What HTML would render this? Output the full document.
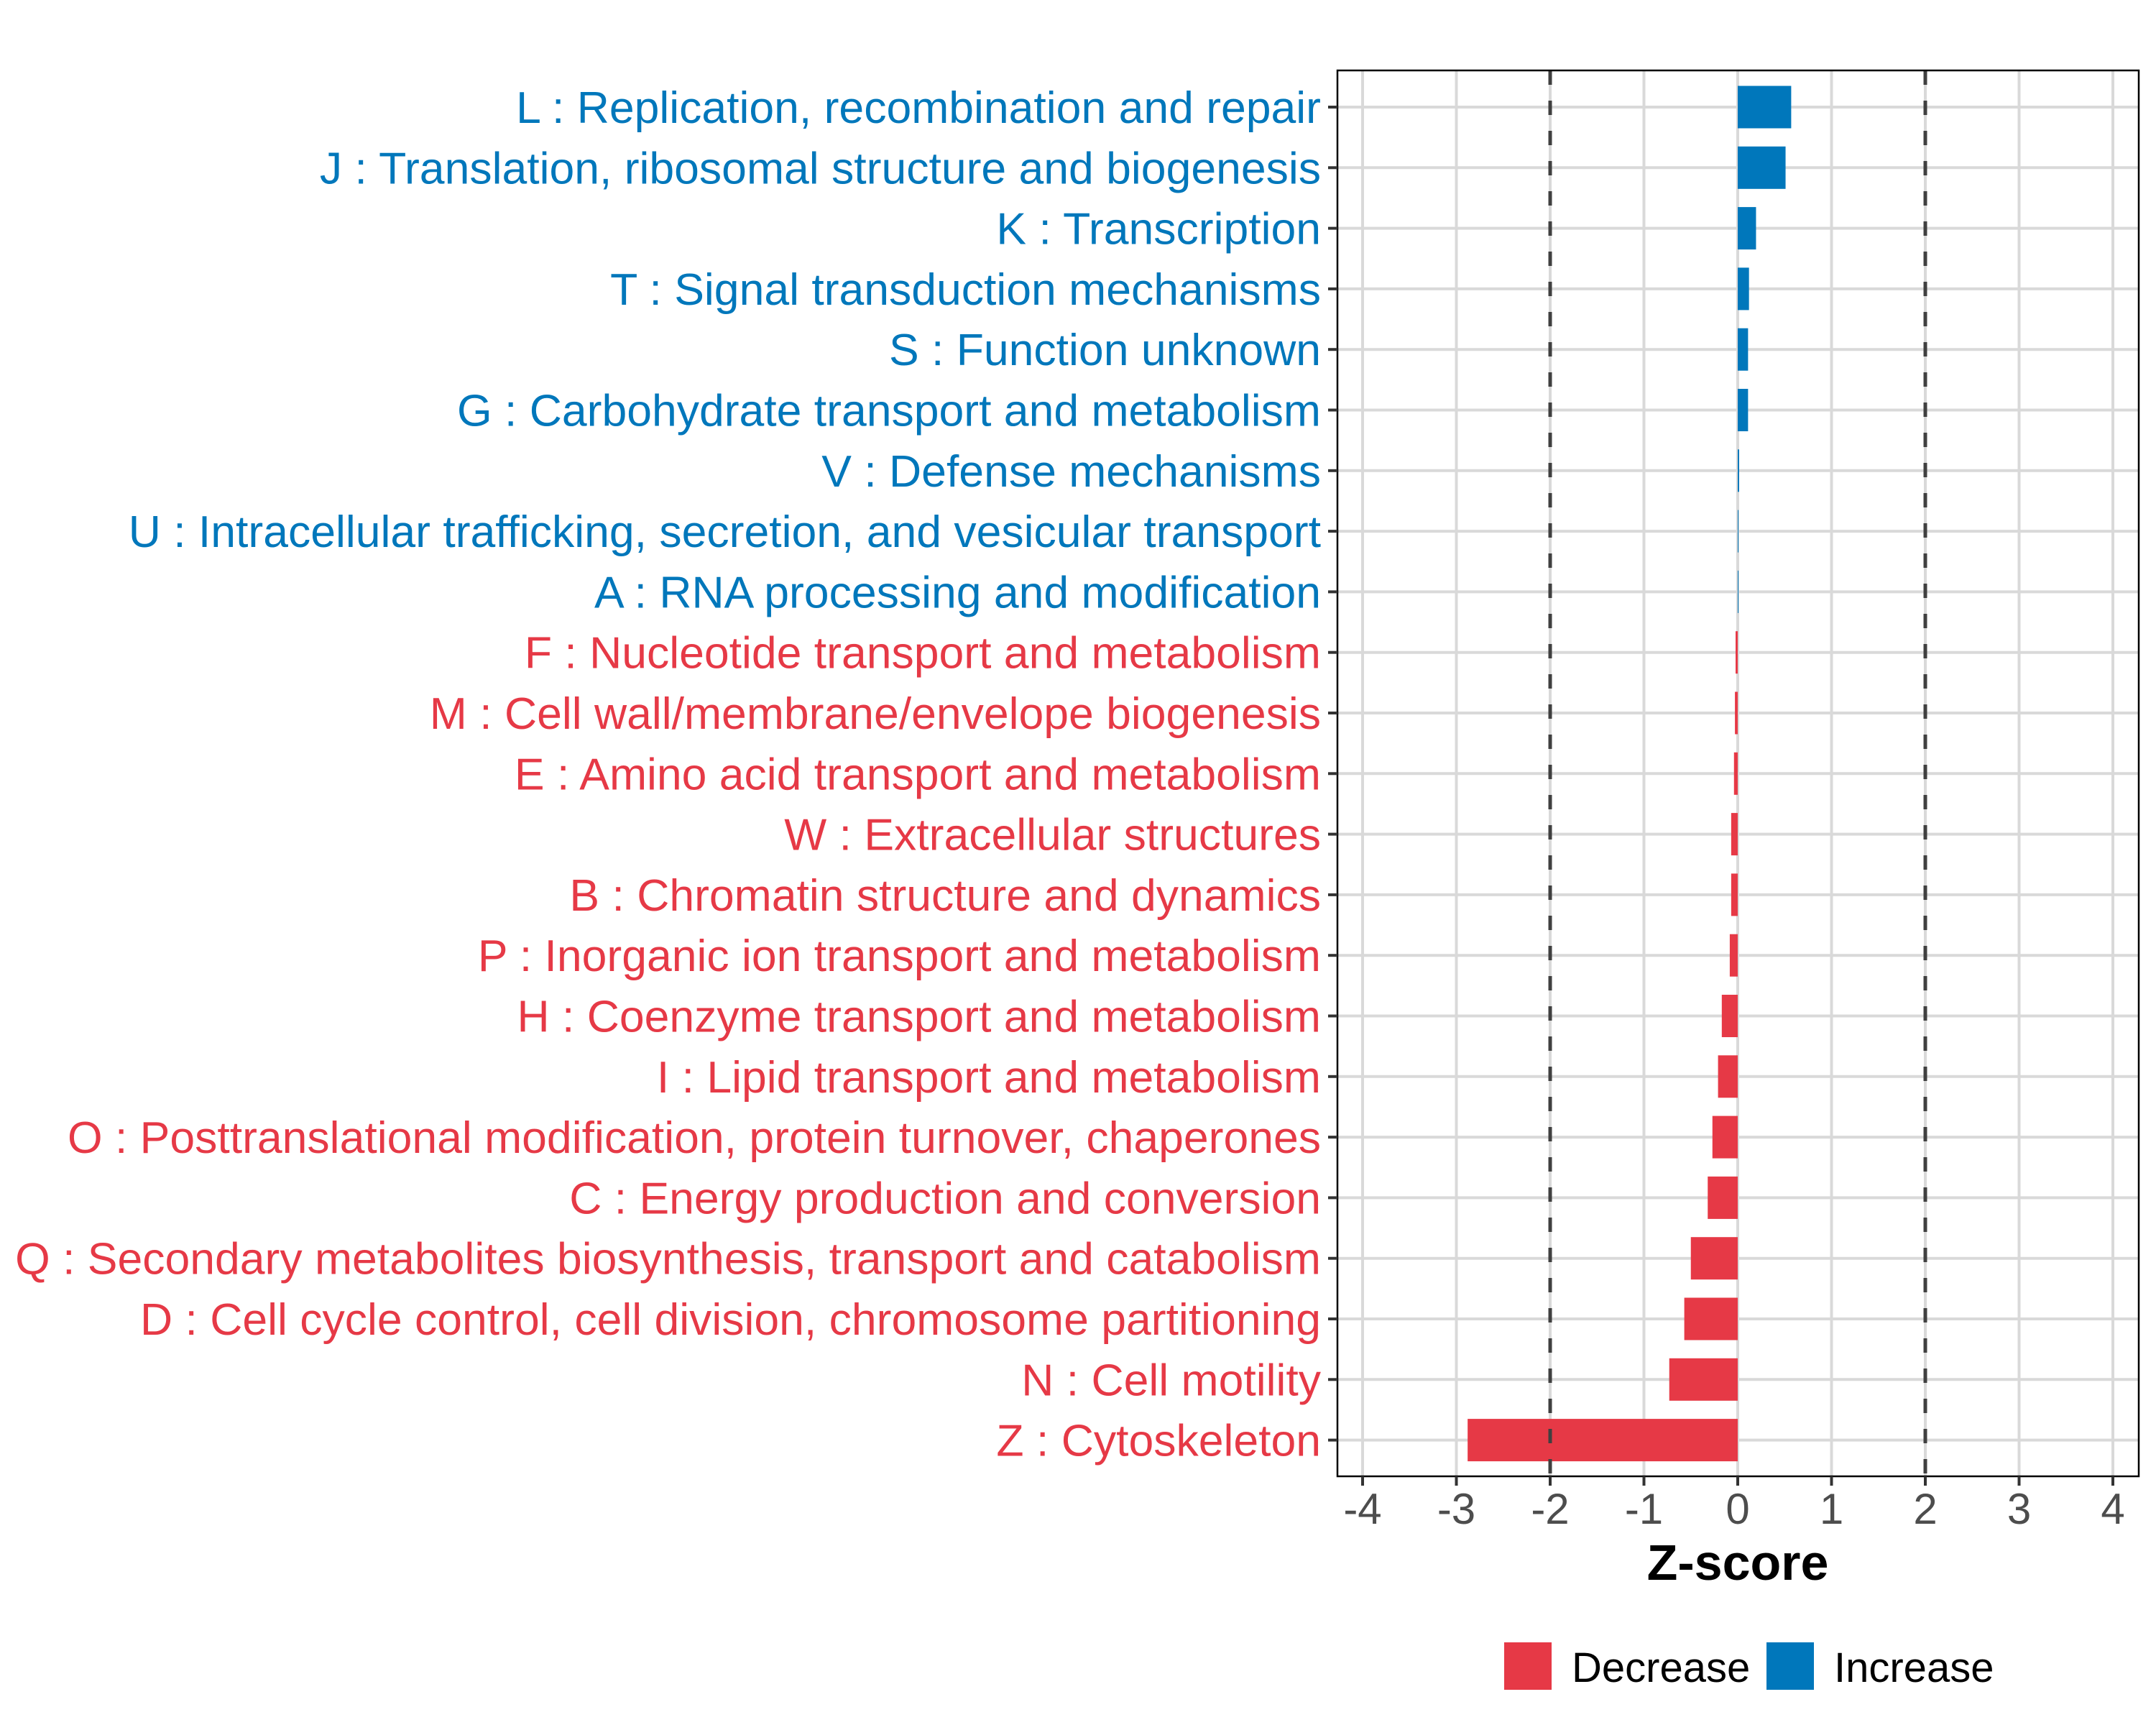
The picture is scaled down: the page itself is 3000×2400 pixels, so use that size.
<!DOCTYPE html>
<html><head><meta charset="utf-8"><style>
html,body{margin:0;padding:0;background:#fff;}
svg{display:block;font-family:"Liberation Sans",sans-serif;}
</style></head><body>
<svg id="chart" width="3000" height="2400" viewBox="0 0 3000 2400" xmlns="http://www.w3.org/2000/svg">
<rect width="3000" height="2400" fill="#fff"/>
<g id="grid"></g>
<g id="bars"></g>
<g id="axes"></g>
<text x="2418" y="2198" font-size="70" font-weight="bold" text-anchor="middle" fill="#000">Z-score</text>
<g>
<rect x="2093" y="2285" width="66" height="66" fill="#E63946"/>
<text x="2187" y="2340" font-size="58" fill="#000">Decrease</text>
<rect x="2458" y="2285" width="66" height="66" fill="#0077BB"/>
<text x="2552" y="2340" font-size="58" fill="#000">Increase</text>
</g>
</svg>
<script>
const categories = ["L : Replication, recombination and repair","J : Translation, ribosomal structure and biogenesis","K : Transcription","T : Signal transduction mechanisms","S : Function unknown","G : Carbohydrate transport and metabolism","V : Defense mechanisms","U : Intracellular trafficking, secretion, and vesicular transport","A : RNA processing and modification","F : Nucleotide transport and metabolism","M : Cell wall/membrane/envelope biogenesis","E : Amino acid transport and metabolism","W : Extracellular structures","B : Chromatin structure and dynamics","P : Inorganic ion transport and metabolism","H : Coenzyme transport and metabolism","I : Lipid transport and metabolism","O : Posttranslational modification, protein turnover, chaperones","C : Energy production and conversion","Q : Secondary metabolites biosynthesis, transport and catabolism","D : Cell cycle control, cell division, chromosome partitioning","N : Cell motility","Z : Cytoskeleton"];
const zscores = [0.57,0.51,0.195,0.12,0.11,0.11,0.015,0.006,0.006,-0.023,-0.03,-0.04,-0.07,-0.07,-0.085,-0.17,-0.21,-0.27,-0.32,-0.50,-0.57,-0.73,-2.88];
const xTicks = [-4,-3,-2,-1,0,1,2,3,4];
const refLines = [-2,2];

const NS="http://www.w3.org/2000/svg";
const PL=1861, PR=2976, PT=98, PB=2054;
const X0=2418, UNIT=130.5, ROW0=149, ROWH=84.3;
const xs=v=>X0+v*UNIT;
const ys=i=>ROW0+i*ROWH;
function mk(tag,attrs,parent){const e=document.createElementNS(NS,tag);for(const k in attrs)e.setAttribute(k,attrs[k]);parent.appendChild(e);return e;}
const grid=document.getElementById('grid'), bars=document.getElementById('bars'), axes=document.getElementById('axes');
mk('rect',{x:PL,y:PT,width:PR-PL,height:PB-PT,fill:'#fff'},grid);
xTicks.forEach(t=>{
  const l=mk('line',{x1:xs(t),x2:xs(t),y1:PT,y2:PB,stroke:'#D9D9D9','stroke-width':4},grid);
  
  
});
categories.forEach((c,i)=>{
  const l=mk('line',{x1:PL,x2:PR,y1:ys(i),y2:ys(i),stroke:'#D9D9D9','stroke-width':4},grid);
  
  
});
zscores.forEach((v,i)=>{
  const x1=Math.min(xs(0),xs(v)), w=Math.max(Math.abs(xs(v)-xs(0)),1);
  const r=mk('rect',{x:x1,y:ys(i)-29.5,width:w,height:59,fill:v>=0?'#0077BB':'#E63946'},bars);
  
  
});
refLines.forEach(v=>{
  const l=mk('line',{x1:xs(v),x2:xs(v),y1:PT,y2:PB,stroke:'#404040','stroke-width':5,'stroke-dasharray':'20 22'},bars);
  
  
});
const fr=mk('rect',{x:PL,y:PT,width:PR-PL,height:PB-PT,fill:'none',stroke:'#000','stroke-width':2.5},axes);


categories.forEach((c,i)=>{
  const tk=mk('line',{x1:PL-13,x2:PL,y1:ys(i),y2:ys(i),stroke:'#333','stroke-width':4},axes);
  
  
  const t=mk('text',{x:1838,y:ys(i)+22,'font-size':62.5,'text-anchor':'end',fill:zscores[i]>=0?'#0077BB':'#E63946'},axes);
  t.textContent=c;
  
  
});
xTicks.forEach(v=>{
  const tk=mk('line',{x1:xs(v),x2:xs(v),y1:PB,y2:PB+13,stroke:'#333','stroke-width':4},axes);
  
  
  const t=mk('text',{x:xs(v),y:2120,'font-size':60,'text-anchor':'middle',fill:'#4D4D4D'},axes);
  t.textContent=String(v);
  
  
});
</script>
</body></html>
